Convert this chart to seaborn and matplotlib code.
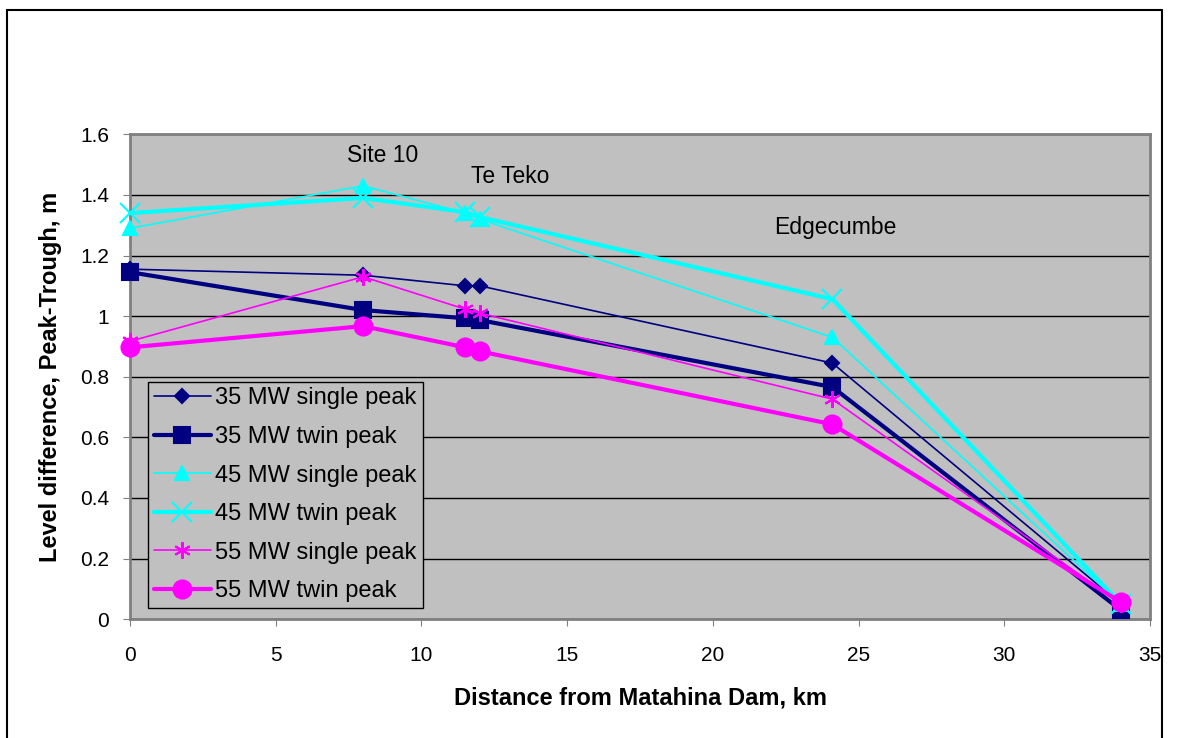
import numpy as np
import pandas as pd
import matplotlib
matplotlib.use("Agg")
import matplotlib.pyplot as plt
import seaborn as sns

# Distances from the dam (km) and measured peak-trough level differences (m)
distance_km = [0, 8, 11.5, 12, 24.1, 34]
mw35_single = [1.155, 1.135, 1.10, 1.10, 0.845, 0.05]
mw35_twin = [1.145, 1.02, 0.993, 0.987, 0.766, 0.03]
mw45_single = [1.29, 1.43, 1.34, 1.32, 0.93, 0.05]
mw45_twin = [1.34, 1.39, 1.343, 1.327, 1.056, 0.05]
mw55_single = [0.917, 1.13, 1.023, 1.01, 0.726, 0.05]
mw55_twin = [0.897, 0.967, 0.897, 0.884, 0.643, 0.056]

series_names = ["35 MW single peak", "35 MW twin peak", "45 MW single peak",
                "45 MW twin peak", "55 MW single peak", "55 MW twin peak"]
site_labels = ["Site 10", "Te Teko", "Edgecumbe"]

sns.set_style("white", {"axes.facecolor": "#C0C0C0"})
plt.rcParams["font.family"] = ["Liberation Sans", "DejaVu Sans"]
plt.rcParams["text.color"] = "black"
plt.rcParams["axes.labelcolor"] = "black"
plt.rcParams["xtick.color"] = "black"
plt.rcParams["ytick.color"] = "black"

frames = []
for name, vals in zip(series_names, [mw35_single, mw35_twin, mw45_single,
                                     mw45_twin, mw55_single, mw55_twin]):
    frames.append(pd.DataFrame({"distance": distance_km, "level": vals, "series": name}))
df = pd.concat(frames, ignore_index=True)

styles = {
    "35 MW single peak": dict(color="#000080", marker="D", ms=7, lw=1.2),
    "35 MW twin peak": dict(color="#000080", marker="s", ms=12, lw=3),
    "45 MW single peak": dict(color="#00FFFF", marker="^", ms=10, lw=1.2),
    "45 MW twin peak": dict(color="#00FFFF", marker="x", ms=15, lw=3),
    "55 MW single peak": dict(color="#FF00FF", marker=(6, 2, 0), ms=12, lw=1.2),
    "55 MW twin peak": dict(color="#FF00FF", marker="o", ms=13, lw=3),
}

fig, ax = plt.subplots(figsize=(11.82, 7.38), dpi=100)
fig.subplots_adjust(left=0.110, right=0.973, top=0.818, bottom=0.161)

for name in series_names:
    st = styles[name]
    sub = df[df["series"] == name]
    sns.lineplot(data=sub, x="distance", y="level", ax=ax, color=st["color"],
                 marker=st["marker"], markersize=st["ms"], linewidth=st["lw"],
                 markeredgecolor=st["color"], markeredgewidth=1.5,
                 label=name, sort=False, clip_on=False, zorder=3)

ax.set_xlim(0, 35)
ax.set_ylim(0, 1.6)
ax.set_xticks(np.arange(0, 36, 5))
ax.set_yticks(np.arange(0, 1.61, 0.2))
ax.set_yticklabels(["0", "0.2", "0.4", "0.6", "0.8", "1", "1.2", "1.4", "1.6"])
ax.yaxis.grid(True, color="black", linewidth=1)
ax.set_axisbelow(True)
ax.tick_params(axis="both", labelsize=15, length=5, direction="out",
               left=True, bottom=True, color="#808080")
ax.tick_params(axis="x", pad=14)
ax.tick_params(axis="y", pad=10)
for side in ["left", "bottom", "top", "right"]:
    ax.spines[side].set_color("#808080")
    ax.spines[side].set_linewidth(2)

ax.set_xlabel("Distance from Matahina Dam, km", fontsize=17, fontweight="bold", labelpad=16)
ax.set_ylabel("Level difference, Peak-Trough, m", fontsize=17, fontweight="bold", labelpad=13)

ax.text(8.68, 1.531, site_labels[0], fontsize=16.5, ha="center", va="center")
ax.text(13.04, 1.462, site_labels[1], fontsize=16.5, ha="center", va="center")
ax.text(24.19, 1.294, site_labels[2], fontsize=16.5, ha="center", va="center")

leg = ax.legend(loc="lower left", bbox_to_anchor=(0.0176, 0.023), fontsize=17,
                frameon=True, fancybox=False, framealpha=1, edgecolor="black",
                borderpad=0.25, labelspacing=0.7, handlelength=2.4,
                handletextpad=0.2, borderaxespad=0)
leg.get_frame().set_linewidth(1)

# outer chart border
fig.add_artist(plt.Line2D([0.006, 0.006], [0.0, 0.987], color="black", lw=1.5))
fig.add_artist(plt.Line2D([0.006, 0.983], [0.987, 0.987], color="black", lw=1.5))
fig.add_artist(plt.Line2D([0.983, 0.983], [0.0, 0.987], color="black", lw=1.5))

plt.savefig("out.png", dpi=100)
plt.close()
